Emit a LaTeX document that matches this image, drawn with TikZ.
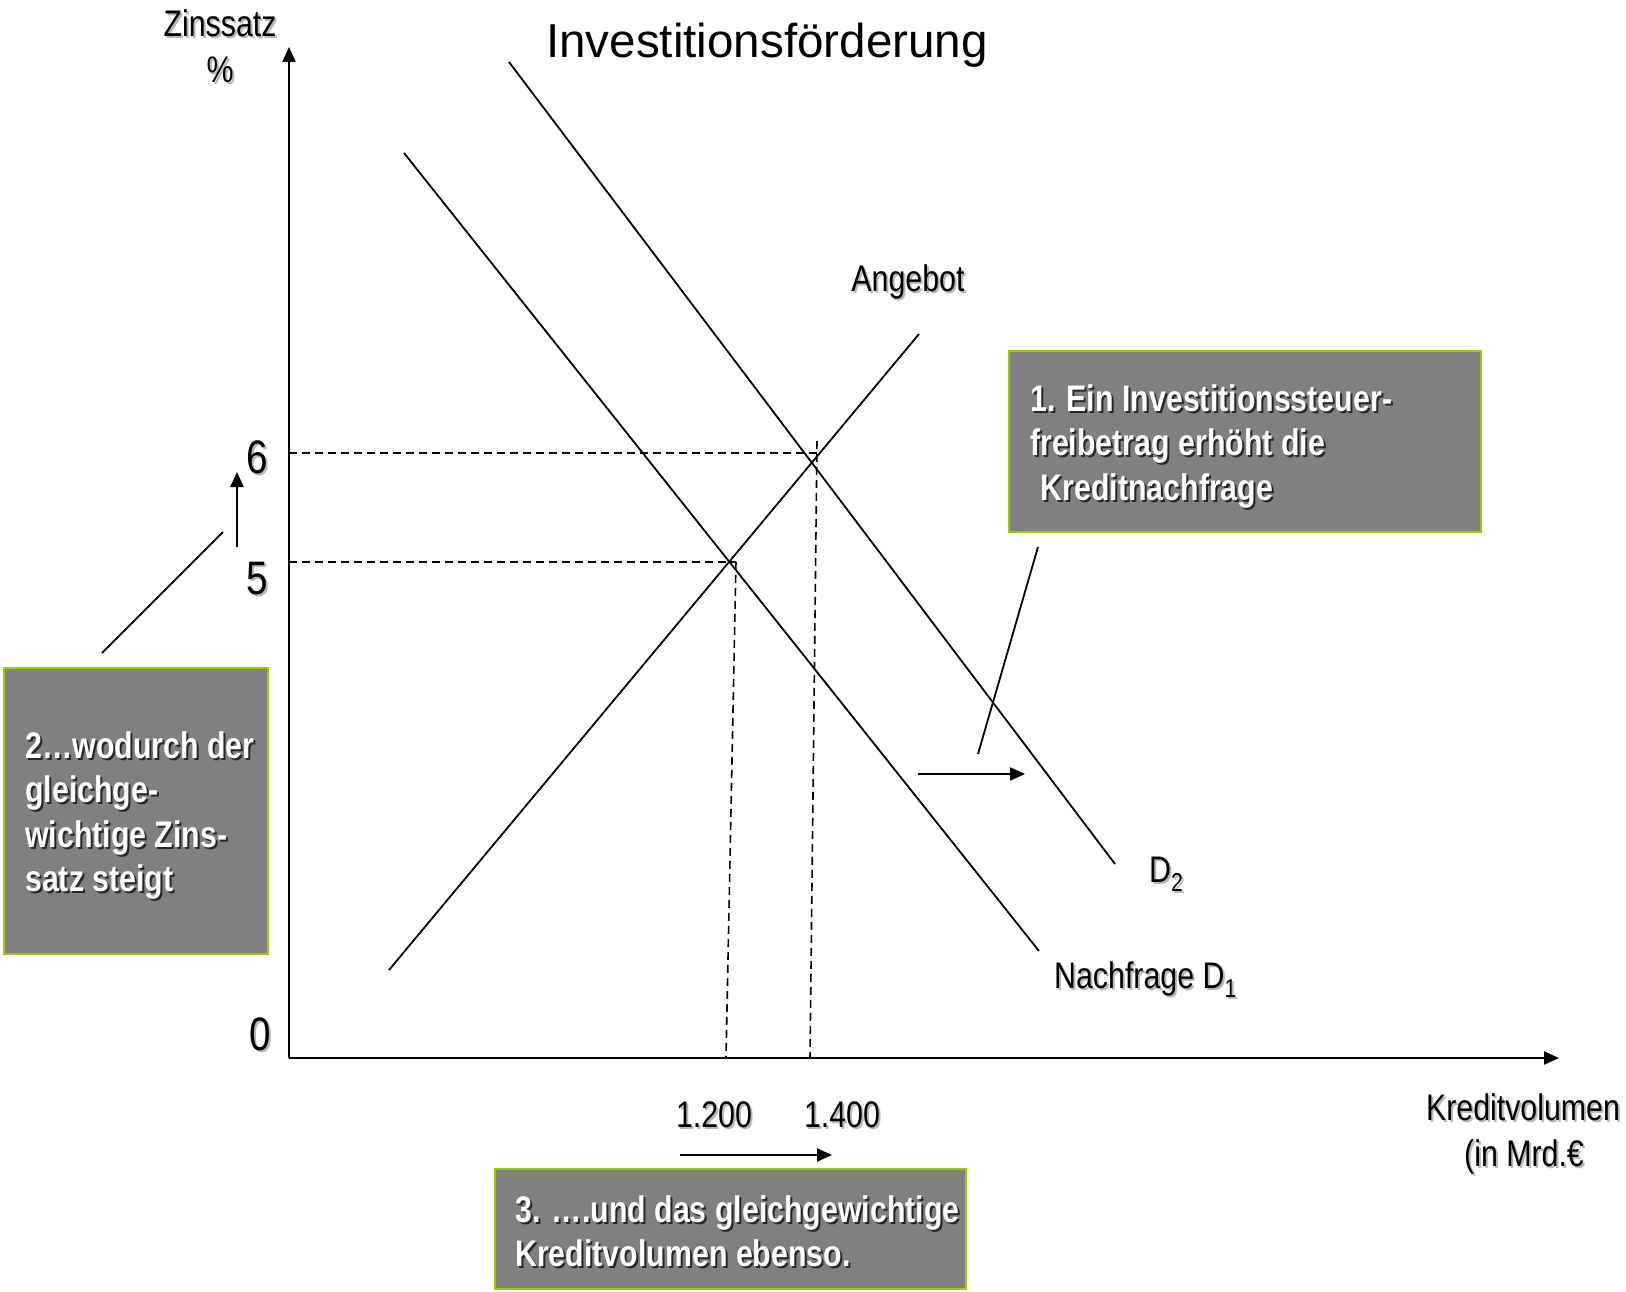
\documentclass[tikz,border=0pt]{standalone}
\usepackage{fontspec}
\setmainfont{Liberation Sans}
\newfontfamily\nar{Liberation Sans}[FakeStretch=0.82]
\usetikzlibrary{arrows.meta}
\definecolor{boxgray}{HTML}{808080}
\definecolor{boxgreen}{HTML}{99CC00}
\newcommand\shd[2][black!28]{\makebox[0pt][l]{\hspace{2pt}\raisebox{-2pt}{\textcolor{#1}{#2}}}#2}
\newcommand\wsh[1]{\shd[black!85]{#1}}
\begin{document}
\begin{tikzpicture}[x=1pt,y=-1pt,
  lbl/.style={font=\nar\fontsize{37}{44.5}\selectfont, inner sep=0pt},
  bignum/.style={font=\nar\fontsize{47}{56}\selectfont, inner sep=0pt},
  titlefont/.style={font=\fontsize{47.6}{57}\selectfont, inner sep=0pt},
  infobox/.style={draw=boxgreen, line width=2.5pt, fill=boxgray, inner sep=0pt},
  boxtext/.style={text=white, font=\nar\bfseries\fontsize{37}{44.5}\selectfont, align=left, inner sep=0pt, anchor=north west},
  curve/.style={line width=1.8pt},
  axisline/.style={line width=2.2pt, -{Triangle[length=15pt,width=13pt]}},
  guide/.style={line width=1.6pt, dash pattern=on 8pt off 5pt},
  arr/.style={line width=2pt, -{Triangle[length=15pt,width=13pt]}},
  pointer/.style={line width=1.8pt}]
\useasboundingbox (0,0) rectangle (1626,1292);

% axes
\coordinate (O) at (289,1058);
\coordinate (ytop) at (289,47);
\coordinate (xend) at (1559,1058);
\draw[axisline] (O) -- (ytop);
\draw[axisline] (O) -- (xend);

% guides
\coordinate (y6) at (289,453);
\coordinate (e2) at (817,453);
\coordinate (y5) at (289,562);
\coordinate (e1) at (736,562);
\coordinate (e2top) at (817,441);
\coordinate (x14) at (810,1058);
\coordinate (x12) at (726,1058);
\draw[guide] (y6) -- (e2);
\draw[guide] (y5) -- (e1);
\draw[guide] (e2top) -- (x14);
\draw[guide] (e1) -- (x12);

% curves
\coordinate (s1) at (389,970);
\coordinate (s2) at (919,334);
\coordinate (da) at (404,153);
\coordinate (db) at (1039,951);
\coordinate (d2a) at (509,62);
\coordinate (d2b) at (1115,864);
\draw[curve] (s1) -- (s2);
\draw[curve] (da) -- (db);
\draw[curve] (d2a) -- (d2b);

% texts
\node[titlefont, anchor=base] (title) at (767,58) {Investitionsförderung};
\node[lbl, anchor=base] (zins) at (220,37) {\shd{Zinssatz}};
\node[lbl, anchor=base] (pct) at (220,83) {\shd{\%}};
\node[lbl, anchor=base] (angebot) at (908,291) {\shd{Angebot}};
\node[bignum, anchor=base] (six) at (257,473) {\shd{6}};
\node[bignum, anchor=base] (five) at (257,594) {\shd{5}};
\node[bignum, anchor=base] (zero) at (260,1050) {\shd{0}};
\node[lbl, anchor=base] (t12) at (714,1127) {\shd{1.200}};
\node[lbl, anchor=base] (t14) at (842,1127) {\shd{1.400}};
\node[lbl, anchor=base] (kv1) at (1523,1120) {\shd{Kreditvolumen}};
\node[lbl, anchor=base] (kv2) at (1524,1166) {\shd{(in Mrd.€}};
\node[lbl, anchor=base west] (dtwo) at (1149,882) {\shd{D\textsubscript{2}}};
\node[lbl, anchor=base west] (done) at (1054,988) {\shd{Nachfrage D\textsubscript{1}}};

% box 1
\node[infobox, minimum width=472pt, minimum height=181pt] (box1) at (1245,441.5) {};
\node[boxtext] (box1t) at (1030,384) {\wsh{1. Ein Investitionssteuer-}\\\wsh{freibetrag erhöht die}\\\hspace{0.28em}\wsh{Kreditnachfrage}};
\coordinate (p1a) at (1038,547);
\coordinate (p1b) at (978,754);
\draw[pointer] (p1a) -- (p1b);
\coordinate (a1a) at (918,774);
\coordinate (a1b) at (1025,774);
\draw[arr] (a1a) -- (a1b);

% box 2
\node[infobox, minimum width=264pt, minimum height=286pt] (box2) at (136,811) {};
\node[boxtext] (box2t) at (25,731) {\wsh{2…wodurch der}\\\wsh{gleichge-}\\\wsh{wichtige Zins-}\\\wsh{satz steigt}};
\coordinate (p2a) at (102,653);
\coordinate (p2b) at (223,532);
\draw[pointer] (p2a) -- (p2b);
\coordinate (a2a) at (237,547);
\coordinate (a2b) at (237,472);
\draw[arr] (a2a) -- (a2b);

% box 3
\node[infobox, minimum width=471pt, minimum height=120pt] (box3) at (730.5,1229) {};
\node[boxtext] (box3t) at (515,1195) {\wsh{3. ….und das gleichgewichtige}\\\wsh{Kreditvolumen ebenso.}};
\coordinate (a3a) at (680,1155);
\coordinate (a3b) at (832,1155);
\draw[arr] (a3a) -- (a3b);
\end{tikzpicture}
\end{document}
